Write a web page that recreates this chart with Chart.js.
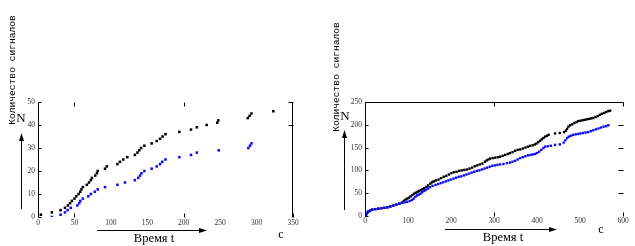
<!DOCTYPE html>
<html>
<head>
<meta charset="utf-8">
<script src="https://cdn.jsdelivr.net/npm/chart.js@4/dist/chart.umd.min.js"></script>
<style>
  html, body { margin: 0; padding: 0; background: #fff; }
  #page { position: relative; width: 635px; height: 246px; overflow: hidden; }
  canvas { position: absolute; top: 0; }
  #leftChart { left: 0; }
  #rightChart { left: 318px; }
  #overlay { position: absolute; left: 0; top: 0; pointer-events: none; }
</style>
</head>
<body>
<div id="page">
  <canvas id="leftChart" width="318" height="246"></canvas>
  <canvas id="rightChart" width="317" height="246"></canvas>
  <svg id="overlay" width="635" height="246" xmlns="http://www.w3.org/2000/svg">
    <g font-family="'Liberation Mono', 'DejaVu Sans Mono', monospace" font-size="9.6" fill="#000">
      <text transform="translate(15,70) rotate(-90)" text-anchor="middle">Количество сигналов</text>
      <text transform="translate(339,77) rotate(-90)" text-anchor="middle">Количество сигналов</text>
    </g>
    <g font-family="'Liberation Serif', 'Times New Roman', serif" fill="#000">
      <text x="21" y="122" font-size="13" text-anchor="middle">N</text>
      <text x="345" y="120" font-size="13" text-anchor="middle">N</text>
      <text x="154" y="242" font-size="12.5" text-anchor="middle">Время t</text>
      <text x="503" y="241" font-size="12.5" text-anchor="middle">Время t</text>
      <text x="281" y="238" font-size="12" text-anchor="middle">c</text>
      <text x="601" y="233" font-size="12" text-anchor="middle">c</text>
    </g>
    <g stroke="#000" stroke-width="1" fill="none">
      <line x1="21.5" y1="209" x2="21.5" y2="139" />
      <line x1="344.5" y1="210" x2="344.5" y2="136" />
      <line x1="97" y1="230.5" x2="201" y2="230.5" />
      <line x1="445" y1="229.5" x2="551" y2="229.5" />
    </g>
    <g fill="#000">
      <polygon points="21.5,133 19,141 24,141" />
      <polygon points="344.5,130 342,138 347,138" />
      <polygon points="207,230.5 199,228 199,233" />
      <polygon points="557,229.5 549,227 549,232" />
    </g>
  </svg>
</div>
<script>
(function () {
  // ---- left panel: first run (t in s, cumulative N) ----
  const leftXTicks = [0, 50, 100, 150, 200, 250, 300, 350];
  const leftYTicks = [0, 10, 20, 30, 40, 50];
  const leftBlackT = [4, 19, 31, 37, 41, 44, 46.5, 50, 52.5, 55.7, 58, 59.5, 61.6, 67, 70, 72.6, 74, 78.5, 80.8, 82, 92, 94.5, 109, 112.5, 117, 122.6, 133, 136.5, 139, 141.5, 146, 156, 163, 167.5, 171, 175, 194, 210, 218, 231.5, 246, 247.5, 288, 290.5, 293, 323];
  const leftBlackN = [1, 2, 3, 4, 5, 6, 7, 8, 9, 10, 11, 12, 13, 14, 15, 16, 17, 18, 19, 20, 21, 22, 23, 24, 25, 26, 27, 28, 29, 30, 31, 32, 33, 34, 35, 36, 37, 38, 39, 40, 41, 42, 43, 44, 45, 46];
  const leftBlueT = [19, 31, 37, 40.6, 45, 54, 56.6, 58, 61.6, 69, 72.6, 78, 82, 92, 109, 119.4, 133, 137.7, 140, 142, 146, 156, 163, 167.5, 170.6, 175, 194, 210, 218, 248, 288.7, 291, 293];
  const leftBlueN = [0, 1, 2, 3, 4, 5, 6, 7, 8, 9, 10, 11, 12, 13, 14, 15, 16, 17, 18, 19, 20, 21, 22, 23, 24, 25, 26, 27, 28, 29, 30, 31, 32];

  // ---- right panel: longer run ----
  const rightXTicks = [0, 100, 200, 300, 400, 500, 600];
  const rightYTicks = [0, 50, 100, 150, 200, 250];
  const rightBlackT = [1, 3, 5, 8, 12, 17, 24, 31, 38, 45, 52, 59, 66, 73, 80, 86, 90, 94, 98, 102, 106, 110, 114, 118, 122, 126, 130, 134, 138, 143, 147, 152, 156, 160, 165, 171, 177, 183, 189, 195, 201, 207, 213, 219, 225, 231, 237, 243, 249, 255, 261, 267, 273, 279, 283, 287, 291, 297, 303, 309, 314, 320, 326, 332, 337, 343, 349, 355, 361, 367, 373, 379, 384, 390, 395, 399, 403, 407, 411, 415, 419, 423, 427, 442, 453, 463, 467, 470, 473, 477, 482, 487, 492, 496, 501, 506, 511, 516, 521, 526, 531, 536, 541, 546, 551, 556, 561, 566, 570];
  const rightBlackN = [1, 4, 7, 10, 12, 14, 15, 16, 17, 18, 19, 21, 23, 25, 27, 29, 33, 36, 38, 40, 43, 46, 49, 51, 53, 55, 57, 59, 61, 64, 67, 71, 74, 76, 78, 80, 83, 86, 88, 91, 94, 96, 97, 99, 100, 101, 102, 104, 106, 109, 111, 113, 115, 119, 122, 124, 126, 127, 128, 129, 130, 132, 134, 136, 138, 140, 143, 145, 146, 148, 150, 152, 154, 155, 157, 159, 162, 165, 168, 171, 174, 176, 178, 181, 182, 184, 187, 191, 196, 199, 201, 204, 206, 208, 209, 210, 211, 212, 213, 214, 215, 217, 219, 222, 224, 226, 228, 230, 231];
  const rightBlueT = [1, 3, 5, 8, 12, 17, 24, 31, 38, 45, 52, 59, 66, 73, 80, 86, 92, 98, 104, 109, 113, 117, 121, 125, 129, 133, 137, 141, 146, 151, 157, 164, 170, 176, 182, 188, 194, 200, 206, 212, 218, 224, 230, 236, 242, 248, 254, 260, 266, 272, 278, 284, 290, 296, 302, 308, 314, 322, 330, 337, 343, 349, 355, 361, 367, 373, 379, 385, 390, 395, 400, 405, 410, 415, 419, 425, 432, 442, 453, 462, 466, 470, 474, 479, 484, 490, 496, 501, 507, 513, 519, 525, 531, 537, 543, 549, 555, 561, 566];
  const rightBlueN = [1, 4, 7, 10, 12, 14, 15, 16, 17, 18, 19, 21, 23, 25, 27, 29, 30, 31, 33, 35, 38, 42, 45, 47, 49, 52, 55, 57, 60, 63, 66, 68, 70, 72, 74, 76, 78, 80, 82, 84, 86, 87, 89, 91, 93, 95, 97, 99, 100, 102, 104, 106, 108, 110, 111, 112, 113, 114, 116, 117, 119, 121, 124, 127, 129, 131, 133, 134, 135, 136, 138, 141, 145, 149, 152, 153, 154, 156, 157, 161, 166, 171, 174, 176, 178, 179, 180, 181, 182, 183, 184, 186, 188, 190, 192, 194, 196, 197, 199];

  const BLACK = '#000000';
  const BLUE = '#0b0bf2';
  const TICK_FONT = { family: "'Liberation Serif', 'Times New Roman', serif", size: 7.5 };

  function pairs(ts, ns) {
    return ts.map((t, i) => ({ x: t, y: ns[i] }));
  }

  // thin frame lines and short inward ticks, like the scanned plot
  const framePlugin = {
    id: 'frame',
    afterDraw(chart, args, o) {
      const { ctx, chartArea: a, scales } = chart;
      const sx = scales.x, sy = scales.y;
      const L = Math.round(a.left) + 0.5, R = Math.round(a.right) - 0.5;
      const T = Math.round(a.top) + 0.5, B = Math.round(a.bottom) + 0.5;
      const line = (x1, y1, x2, y2) => { ctx.beginPath(); ctx.moveTo(x1, y1); ctx.lineTo(x2, y2); ctx.stroke(); };
      ctx.save();
      ctx.strokeStyle = '#000';
      ctx.lineWidth = 1;
      line(L, T, L, B);
      if (o.rightLine) line(R, T, R, B);
      if (o.topLine) line(L, T, R, T);
      (o.yLeft || []).forEach(v => { const p = Math.round(sy.getPixelForValue(v)) + 0.5; line(L, p, L + 3, p); });
      (o.yRight || []).forEach(v => { const p = Math.round(sy.getPixelForValue(v)) + 0.5; line(R - 4, p, R + 1, p); });
      (o.xTop || []).forEach(v => { const p = Math.round(sx.getPixelForValue(v)) + 0.5; line(p, T, p, T + 4); });
      (o.xBottom || []).forEach(v => { const p = Math.round(sx.getPixelForValue(v)) + 0.5; line(p, B, p, B - 4); });
      ctx.restore();
    },
  };

  function makeChart(id, cfg) {
    const ctx = document.getElementById(id).getContext('2d');
    // blue listed first so it sits on top where the two runs overlap
    return new Chart(ctx, {
      type: 'scatter',
      data: {
        datasets: [
          { data: pairs(cfg.blueT, cfg.blueN), backgroundColor: BLUE, borderWidth: 0, pointStyle: 'rect', pointRadius: cfg.r },
          { data: pairs(cfg.blackT, cfg.blackN), backgroundColor: BLACK, borderWidth: 0, pointStyle: 'rect', pointRadius: cfg.r },
        ],
      },
      options: {
        responsive: false,
        animation: false,
        events: [],
        layout: { padding: cfg.padding },
        plugins: { legend: { display: false }, tooltip: { enabled: false }, frame: cfg.frame },
        scales: {
          x: {
            type: 'linear', min: cfg.xTicks[0], max: cfg.xTicks[cfg.xTicks.length - 1],
            afterBuildTicks: s => { s.ticks = cfg.xTicks.map(v => ({ value: v })); },
            afterFit: s => { s.height = 12; },
            grid: { display: false, drawTicks: false },
            border: { display: false },
            ticks: { font: TICK_FONT, color: '#333', padding: cfg.xPad, maxRotation: 0, autoSkip: false },
          },
          y: {
            type: 'linear', min: cfg.yTicks[0], max: cfg.yTicks[cfg.yTicks.length - 1],
            afterBuildTicks: s => { s.ticks = cfg.yTicks.map(v => ({ value: v })); },
            afterFit: s => { s.width = cfg.yWidth; },
            grid: { display: false, drawTicks: false },
            border: { display: false },
            ticks: { font: TICK_FONT, color: '#333', padding: 3 },
          },
        },
      },
      plugins: [framePlugin],
    });
  }

  makeChart('leftChart', {
    blackT: leftBlackT, blackN: leftBlackN, blueT: leftBlueT, blueN: leftBlueN,
    xTicks: leftXTicks, yTicks: leftYTicks, r: 1.8, xPad: 2, yWidth: 38,
    padding: { top: 102, right: 25, bottom: 17, left: 0 },
    frame: { rightLine: true, yLeft: leftYTicks, yRight: [40, 50], xTop: [50, 200], xBottom: [50, 200, 350] },
  });

  makeChart('rightChart', {
    blackT: rightBlackT, blackN: rightBlackN, blueT: rightBlueT, blueN: rightBlueN,
    xTicks: rightXTicks, yTicks: rightYTicks, r: 1.7, xPad: 1, yWidth: 47,
    padding: { top: 102, right: 12, bottom: 18, left: 0 },
    frame: { topLine: true, yLeft: rightYTicks, yRight: [50, 100, 150, 200, 250], xTop: [300, 600], xBottom: [300, 600] },
  });
})();
</script>
</body>
</html>
